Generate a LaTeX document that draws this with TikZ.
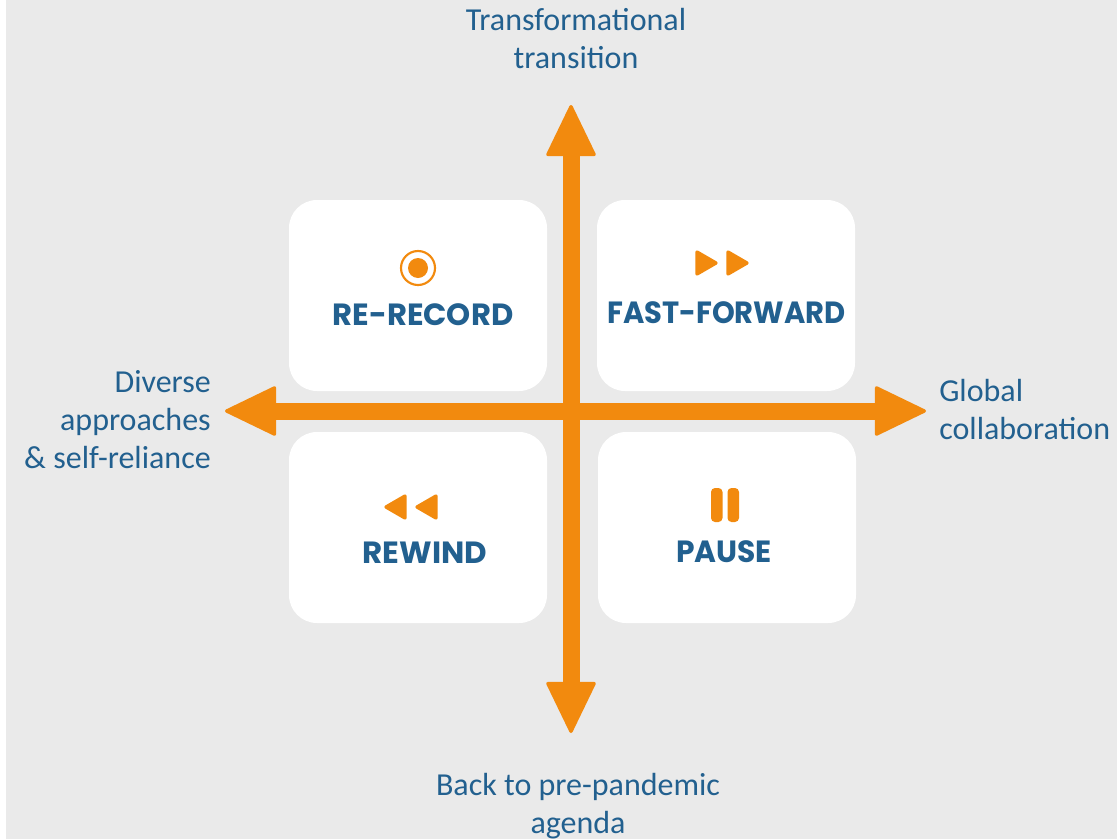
\documentclass[tikz,border=0pt]{standalone}
\usepackage{fontspec}
\setmainfont{Carlito}
\newfontfamily\cardfont{Poppins}
\usetikzlibrary{arrows.meta}
\definecolor{axisorange}{HTML}{F28A0E}
\definecolor{labelblue}{HTML}{22608F}
\definecolor{panelgrey}{HTML}{EAEAEA}
\newcommand{\cardtitle}[2][0.97]{\scalebox{#1}[1]{\cardfont\bfseries\fontsize{23}{24}\selectfont #2}}

\begin{document}
\begin{tikzpicture}[line cap=round,line join=round,x=0.75pt,y=-0.75pt,
  axis/.style={line width=12.75pt,color=axisorange,line cap=butt,-{Triangle[length=40pt,width=38pt,line width=2.5pt,round]}},
  card/.style={fill=white,rounded corners=21pt},
  axislabel/.style={color=labelblue,font=\fontsize{24}{28.5}\selectfont,inner sep=0pt},
  cardlabel/.style={color=labelblue,inner sep=0pt,anchor=base},
  icon/.style={fill=axisorange,draw=axisorange,line width=2.5pt}]
\useasboundingbox (0,0) rectangle (1117,839);
\clip (0,0) rectangle (1117,839);
\fill [color=panelgrey] (6,0) rectangle (1117,839);
%cards
\fill [card] (289,200) rectangle (547,391);
\fill [card] (597,200) rectangle (855,391);
\fill [card] (289,432) rectangle (547,623);
\fill [card] (598,432) rectangle (856,623);
%axes
\coordinate (centre) at (571,411);
\coordinate (north) at (571,105);
\coordinate (south) at (571,733);
\coordinate (west) at (225,411);
\coordinate (east) at (926,411);
\draw [axis] (centre)-- (north);
\draw [axis] (centre)-- (south);
\draw [axis] (centre)-- (west);
\draw [axis] (centre)-- (east);
%icons
\draw [color=axisorange,line width=1.6pt] (418,268) circle (17);
\fill [color=axisorange] (418,268) circle (10);
\draw [icon] (697,252)-- (716,263)-- (697,274)-- cycle;
\draw [icon] (728,252)-- (747,263)-- (728,274)-- cycle;
\draw [icon] (405,496)-- (386,507)-- (405,518)-- cycle;
\draw [icon] (436,496)-- (417,507)-- (436,518)-- cycle;
\fill [color=axisorange,rounded corners=3pt] (711,488) rectangle (722.5,522);
\fill [color=axisorange,rounded corners=3pt] (727.5,488) rectangle (739,522);
%labels
\node [cardlabel] (record) at (423,325) {\cardtitle[1]{RE-RECORD}};
\node [cardlabel] (forward) at (726.5,323) {\cardtitle[0.946]{FAST-FORWARD}};
\node [cardlabel] (rewind) at (425,563) {\cardtitle[1.01]{REWIND}};
\node [cardlabel] (pause) at (724,562) {\cardtitle{PAUSE}};
\node [axislabel,align=center,anchor=base] (top) at (576,68) {Transformational\\transition};
\node [axislabel,align=center,anchor=base] (bottom) at (578,833) {Back to pre-pandemic\\agenda};
\node [axislabel,align=right,anchor=base east] (left) at (211,468) {Diverse\\approaches\\\& self-reliance};
\node [axislabel,align=left,anchor=base west] (right) at (939,439) {Global\\collaboration};
\end{tikzpicture}
\end{document}
